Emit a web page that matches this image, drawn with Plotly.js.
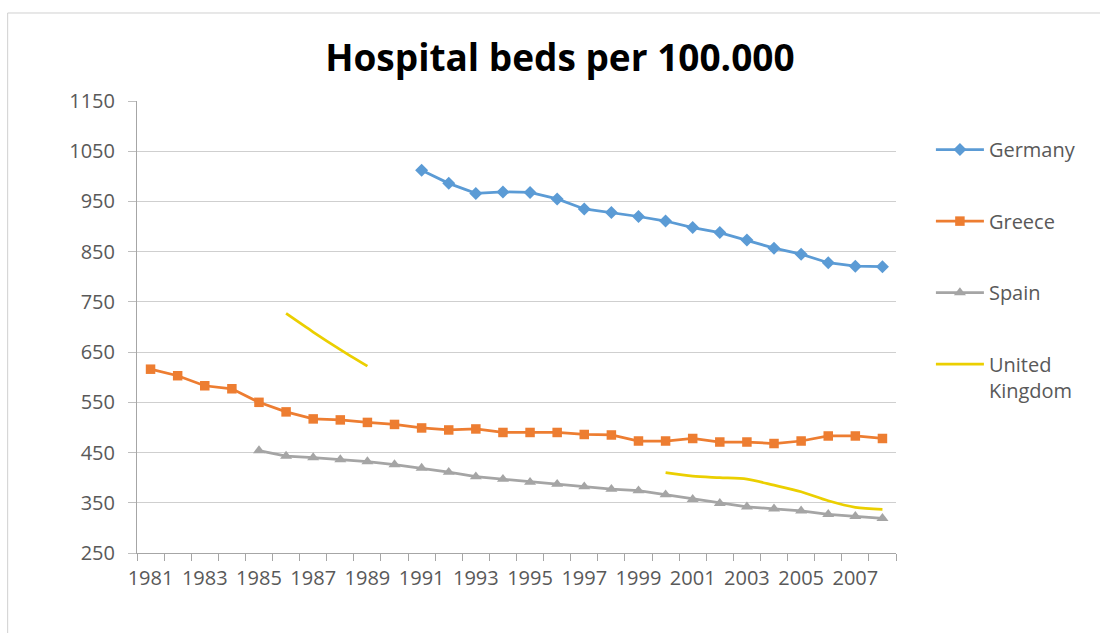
<!DOCTYPE html>
<html>
<head>
<meta charset="utf-8">
<script src="https://cdn.plot.ly/plotly-3.0.1.min.js"></script>
<style>
  html, body { margin: 0; padding: 0; background: #ffffff; }
  #chart { width: 1100px; height: 633px; }
</style>
</head>
<body>
<div id="chart"></div>
<script>
// Hospital beds per 100.000 inhabitants, 1981-2008
const years = [1981, 1982, 1983, 1984, 1985, 1986, 1987, 1988, 1989, 1990,
               1991, 1992, 1993, 1994, 1995, 1996, 1997, 1998, 1999, 2000,
               2001, 2002, 2003, 2004, 2005, 2006, 2007, 2008];

const germany = [null, null, null, null, null, null, null, null, null, null,
                 1012, 986, 966, 969, 968, 955, 935, 928, 920, 911,
                 898, 888, 873, 857, 845, 828, 821, 820];

const greece = [616, 603, 583, 577, 550, 531, 517, 515, 510, 506,
                499, 495, 497, 490, 490, 490, 486, 485, 473, 473,
                478, 471, 471, 468, 473, 483, 483, 478];

const spain = [null, null, null, null, 454, 443, 440, 436, 432, 426,
               419, 411, 402, 397, 391, 387, 382, 377, 374, 366,
               357, 349, 342, 338, 334, 327, 323, 319];

const uk = [null, null, null, null, null, 727, 690, 655, 622, null,
            null, null, null, null, null, null, null, null, null, 410,
            403, 400, 397, 385, 372, 354, 341, 337];

const yTicks = [250, 350, 450, 550, 650, 750, 850, 950, 1050, 1150];
const xTickYears = [1981, 1983, 1985, 1987, 1989, 1991, 1993, 1995, 1997, 1999, 2001, 2003, 2005, 2007];

const textColor = '#595959';
const baseFont = { family: '"Open Sans", "Noto Sans", sans-serif', size: 20, color: textColor };

const traces = [
  {
    name: 'Germany', x: years, y: germany, type: 'scatter', mode: 'lines+markers',
    line: { color: '#5B9BD5', width: 2.75 },
    marker: { symbol: 'diamond', size: 10, color: '#5B9BD5' },
    legendgroup: 'g1', connectgaps: false
  },
  {
    name: 'Greece', x: years, y: greece, type: 'scatter', mode: 'lines+markers',
    line: { color: '#ED7D31', width: 2.75 },
    marker: { symbol: 'square', size: 9.5, color: '#ED7D31' },
    legendgroup: 'g2', connectgaps: false
  },
  {
    name: 'Spain', x: years, y: spain, type: 'scatter', mode: 'lines+markers',
    line: { color: '#A5A5A5', width: 2.75 },
    marker: { symbol: 'triangle-up', size: 10.5, color: '#A5A5A5' },
    legendgroup: 'g3', connectgaps: false
  },
  {
    name: 'United<br>Kingdom', x: years, y: uk, type: 'scatter', mode: 'lines',
    line: { color: '#EBCF00', width: 2.75, shape: 'spline', smoothing: 0.8 },
    legendgroup: 'g4', connectgaps: false
  }
];

const layout = {
  width: 1100,
  height: 633,
  paper_bgcolor: '#ffffff',
  plot_bgcolor: '#ffffff',
  font: baseFont,
  margin: { l: 136.5, r: 203.5, t: 101, b: 80, pad: 0 },
  title: {
    text: '<b>Hospital beds per 100.000</b>',
    font: { family: '"Open Sans", "Noto Sans", sans-serif', size: 37, color: '#000000' },
    xref: 'container', x: 0.509, xanchor: 'center',
    yref: 'container', y: 0.908, yanchor: 'middle'
  },
  xaxis: {
    range: [1980.5, 2008.5],
    tickmode: 'array',
    tickvals: xTickYears,
    ticktext: xTickYears.map(String),
    ticks: 'outside', ticklen: 7, tickcolor: 'rgba(0,0,0,0)',
    tickfont: baseFont,
    showgrid: false,
    zeroline: false,
    showline: true, linecolor: '#A6A6A6', linewidth: 1,
    minor: { tick0: 1980.5, dtick: 1, ticks: 'outside', ticklen: 7, tickcolor: '#A6A6A6', showgrid: false },
    fixedrange: true
  },
  yaxis: {
    range: [250, 1150],
    tickmode: 'array',
    tickvals: yTicks,
    ticktext: yTicks.map(String),
    ticks: 'outside', ticklen: 8, tickcolor: '#BFBFBF',
    ticklabelstandoff: 9,
    tickfont: baseFont,
    showgrid: true, gridcolor: '#CFCFCF', gridwidth: 1,
    zeroline: false,
    showline: true, linecolor: '#A6A6A6', linewidth: 1,
    fixedrange: true
  },
  legend: {
    x: 1.046, xanchor: 'left',
    y: 0.9356, yanchor: 'top',
    font: baseFont,
    itemwidth: 48,
    tracegroupgap: 42.5,
    valign: 'top',
    bgcolor: 'rgba(0,0,0,0)'
  },
  shapes: [
    // outer chart frame (left and top edges)
    { type: 'line', xref: 'paper', yref: 'paper', x0: -0.1704, x1: -0.1704, y0: -0.3, y1: 1.1947,
      line: { color: '#D0D0D0', width: 1 } },
    { type: 'line', xref: 'paper', yref: 'paper', x0: -0.1704, x1: 1.4, y0: 1.1947, y1: 1.1947,
      line: { color: '#D0D0D0', width: 1 } }
  ],
  showlegend: true,
  hovermode: false
};

Plotly.newPlot('chart', traces, layout, { displayModeBar: false, staticPlot: true });
</script>
</body>
</html>
